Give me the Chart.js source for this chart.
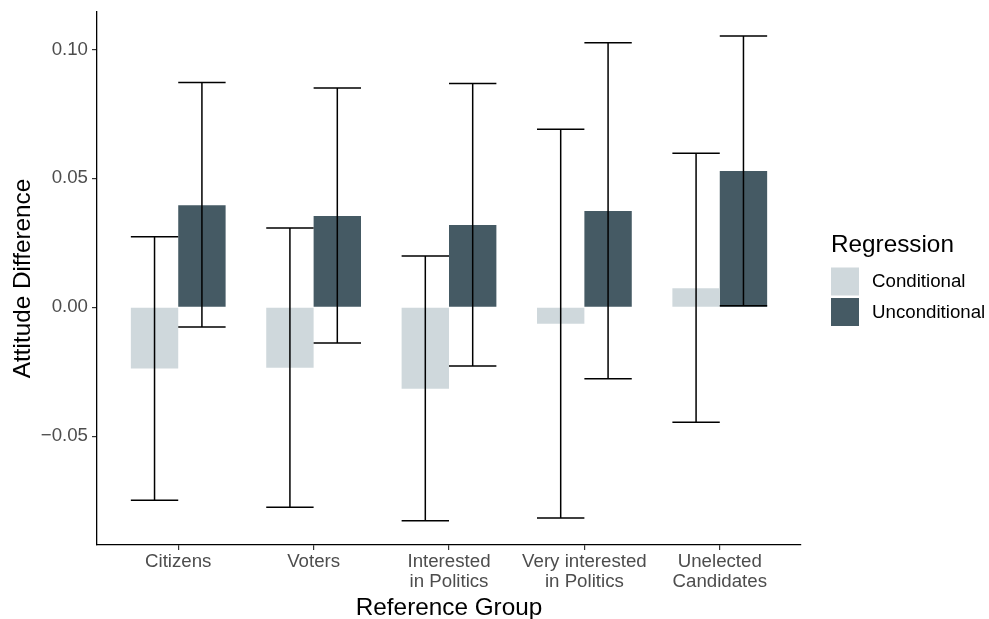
<!DOCTYPE html>
<html>
<head>
<meta charset="utf-8">
<script src="https://cdn.jsdelivr.net/npm/chart.js@4.4.1/dist/chart.umd.min.js"></script>
<style>
  html, body { margin: 0; padding: 0; background: #fff; }
</style>
</head>
<body>
<canvas id="chart" width="989" height="619"></canvas>
<script>
// 数据
const categories = ['Citizens', 'Voters', ['Interested', 'in Politics'], ['Very interested', 'in Politics'], ['Unelected', 'Candidates']];
const seriesNames = ['Conditional', 'Unconditional'];
const conditional = [-0.0238, -0.0235, -0.0316, -0.0064, 0.0074];
const conditionalLow = [-0.0748, -0.0776, -0.0828, -0.0817, -0.0446];
const conditionalHigh = [0.0273, 0.0307, 0.0199, 0.0690, 0.0597];
const unconditional = [0.0396, 0.0354, 0.0319, 0.0373, 0.0528];
const unconditionalLow = [-0.0077, -0.0139, -0.0228, -0.0277, 0.0006];
const unconditionalHigh = [0.0872, 0.0850, 0.0868, 0.1026, 0.1052];
const yTicks = [-0.05, 0, 0.05, 0.10];
const legendTitle = 'Regression';

const COLORS = ['#CFD8DC', '#455A64'];
const FONT = '"Liberation Sans", Arial, Helvetica, sans-serif';
const TICK_SIZE = 18.7;
const TITLE_SIZE = 24.3;

Chart.defaults.font.family = FONT;

// 误差线
const errLow = [conditionalLow, unconditionalLow];
const errHigh = [conditionalHigh, unconditionalHigh];

const errorBarPlugin = {
    id: 'errorBars',
    afterDatasetsDraw(chart) {
        const ctx = chart.ctx;
        const yScale = chart.scales.y;
        ctx.save();
        ctx.strokeStyle = '#000';
        ctx.lineWidth = 1.5;
        chart.data.datasets.forEach((ds, d) => {
            const meta = chart.getDatasetMeta(d);
            meta.data.forEach((bar, i) => {
                const half = bar.width / 2;
                const yHi = yScale.getPixelForValue(errHigh[d][i]);
                const yLo = yScale.getPixelForValue(errLow[d][i]);
                ctx.beginPath();
                ctx.moveTo(bar.x, yHi);
                ctx.lineTo(bar.x, yLo);
                ctx.moveTo(bar.x - half, yHi);
                ctx.lineTo(bar.x + half, yHi);
                ctx.moveTo(bar.x - half, yLo);
                ctx.lineTo(bar.x + half, yLo);
                ctx.stroke();
            });
        });
        ctx.restore();
    }
};

// 右侧图例
const sideLegendPlugin = {
    id: 'sideLegend',
    afterDraw(chart) {
        const { ctx, chartArea } = chart;
        const x0 = chartArea.right + 30;
        const mid = (chartArea.top + chartArea.bottom) / 2;
        ctx.save();
        ctx.textAlign = 'left';
        ctx.textBaseline = 'middle';
        ctx.fillStyle = '#000';
        ctx.font = TITLE_SIZE + 'px ' + FONT;
        ctx.fillText(legendTitle, x0, mid - 33);
        ctx.font = TICK_SIZE + 'px ' + FONT;
        chart.data.datasets.forEach((ds, d) => {
            const top = mid - 11 + d * 30.5;
            ctx.fillStyle = ds.backgroundColor;
            ctx.fillRect(x0, top, 28, 28);
            ctx.fillStyle = '#000';
            ctx.fillText(ds.label, x0 + 41, top + 14.5);
        });
        ctx.restore();
    }
};

const seriesValues = [conditional, unconditional];

new Chart(document.getElementById('chart'), {
    type: 'bar',
    data: {
        datasets: seriesNames.map((name, d) => ({
            label: name,
            data: seriesValues[d].map((v, i) => ({ x: i, y: v })),
            backgroundColor: COLORS[d],
            borderWidth: 0,
            categoryPercentage: 0.7,
            barPercentage: 1.0
        }))
    },
    options: {
        responsive: false,
        animation: false,
        layout: { padding: { top: 12, right: 188, left: 0, bottom: 0 } },
        plugins: {
            legend: { display: false },
            tooltip: { enabled: false }
        },
        scales: {
            x: {
                type: 'linear',
                offset: false,
                min: -0.6,
                max: categories.length - 0.4,
                afterBuildTicks: (scale) => {
                    scale.ticks = categories.map((c, i) => ({ value: i }));
                },
                afterFit: (scale) => {
                    scale.height = 74;
                    scale.paddingLeft = 0;
                    scale.paddingRight = 0;
                },
                grid: { display: true, offset: false, drawOnChartArea: false, drawTicks: true, tickLength: 5, color: '#333333', lineWidth: 1.2 },
                border: { display: true, color: '#000', width: 1.3 },
                ticks: {
                    autoSkip: false,
                    maxRotation: 0,
                    padding: 2,
                    color: '#4D4D4D',
                    font: { size: TICK_SIZE, lineHeight: 1.05 },
                    callback: (v) => categories[Math.round(v)]
                },
                title: {
                    display: true,
                    text: 'Reference Group',
                    color: '#000',
                    font: { size: TITLE_SIZE, lineHeight: 0.9 },
                    padding: { top: 0, bottom: 0 }
                }
            },
            y: {
                min: -0.0922,
                max: 0.1145,
                afterBuildTicks: (scale) => {
                    scale.ticks = yTicks.map(v => ({ value: v }));
                },
                afterFit: (scale) => {
                    scale.width = 97;
                    scale.paddingTop = 0;
                    scale.paddingBottom = 0;
                },
                grid: { display: true, drawOnChartArea: false, drawTicks: true, tickLength: 5, color: '#333333', lineWidth: 1.2 },
                border: { display: true, color: '#000', width: 1.3 },
                ticks: {
                    padding: 4,
                    color: '#4D4D4D',
                    font: { size: TICK_SIZE },
                    callback: (v) => (v < 0 ? '\u2212' : '') + Math.abs(v).toFixed(2)
                },
                title: {
                    display: true,
                    text: 'Attitude Difference',
                    color: '#000',
                    font: { size: TITLE_SIZE, lineHeight: 1 },
                    padding: { top: 11, bottom: 0 }
                }
            }
        }
    },
    plugins: [errorBarPlugin, sideLegendPlugin]
});
</script>
</body>
</html>
